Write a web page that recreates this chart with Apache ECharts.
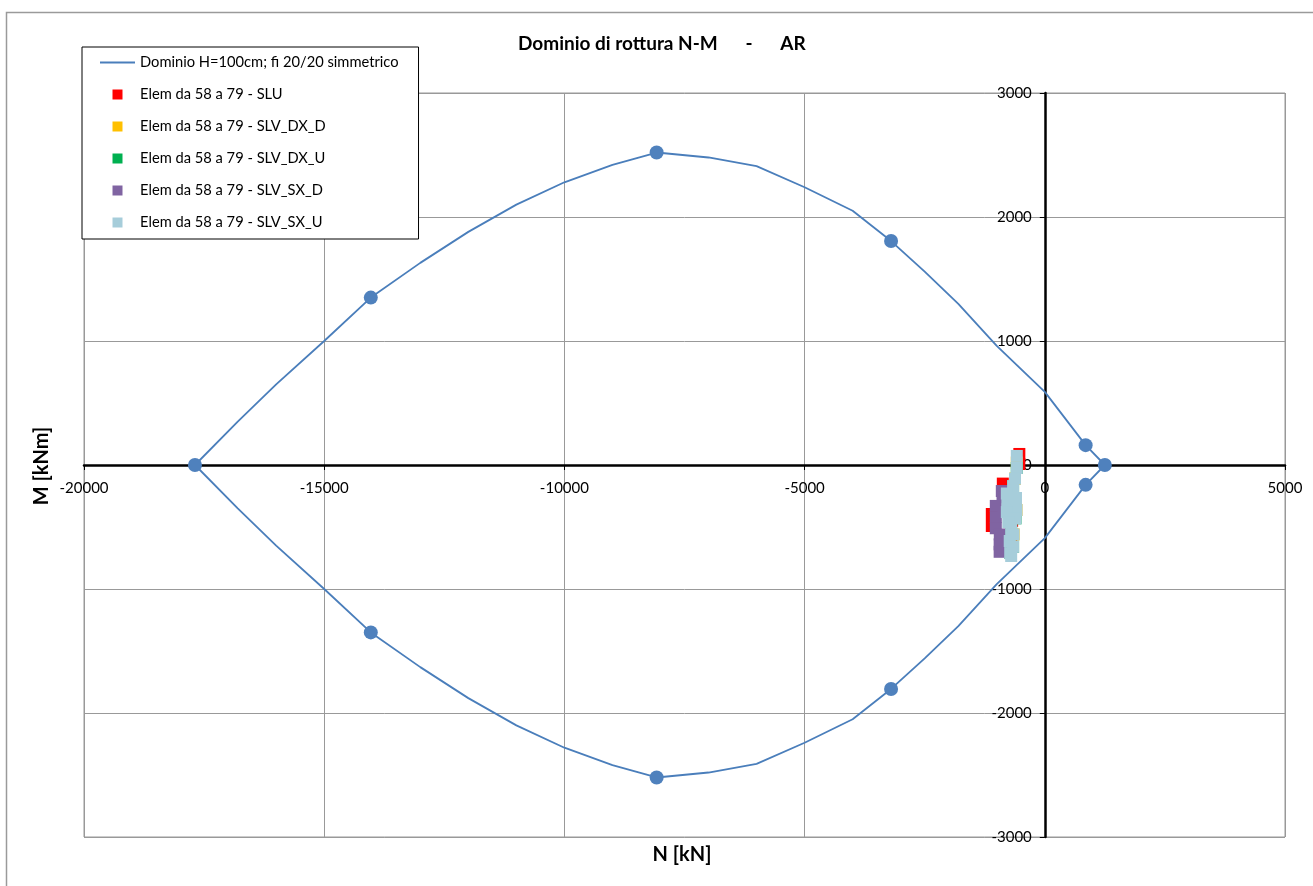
<!DOCTYPE html>
<html><head><meta charset="utf-8">
<script src="https://cdn.jsdelivr.net/npm/echarts@6/dist/echarts.min.js"></script>
<style>html,body{margin:0;padding:0;background:#fff}#c{width:1313px;height:886px}</style>
</head><body><div id="c"></div>
<script>
// Domain curve (closed loop): N [kN], M [kNm]
const domainN = [-17690,-16800,-16000,-15000,-14030,-13000,-12000,-11000,-10000,-9000,-8080,-7000,-6000,-5000,-4000,-3200,-2500,-1800,-1000,0,850,1250,
                 850,0,-1000,-1800,-2500,-3200,-4000,-5000,-6000,-7000,-8080,-9000,-10000,-11000,-12000,-13000,-14030,-15000,-16000,-16800,-17690];
const domainM = [0,350,650,1000,1350,1630,1880,2100,2280,2420,2520,2480,2410,2240,2050,1806,1560,1300,960,590,160,0,
                 -160,-590,-960,-1300,-1560,-1806,-2050,-2240,-2410,-2480,-2520,-2420,-2280,-2100,-1880,-1630,-1350,-1000,-650,-350,0];
// Marked points of the domain
const keyN = [-17690,-14030,-8080,-3200,850,1250,850,-3200,-8080,-14030];
const keyM = [0,1350,2520,1806,160,0,-160,-1806,-2520,-1350];
// Element actions (N [kN], M [kNm])
const sluN = [-530,-530,-874,-1103,-1103,-650,-700,-680];
const sluM = [89,8,-150,-395,-492,-300,-600,-450];
const dxdN = [-583,-620,-600,-590,-650,-730];
const dxdM = [20,-110,-266,-363,-560,-613];
const dxuN = [-583,-660,-610,-700,-660,-720];
const dxuM = [-24,-170,-430,-516,-660,-710];
const sxdN = [-895,-880,-1020,-1020,-1020,-937,-940,-940];
const sxdM = [-210,-260,-330,-420,-510,-560,-640,-700];
const sxuN = [-583,-583,-620,-660,-790,-600,-780,-590,-790,-610,-760,-700,-650,-730,-660,-720,-700];
const sxuM = [73,-24,-110,-170,-230,-266,-300,-363,-380,-430,-460,-516,-560,-613,-660,-710,-734];
// Axis ticks
const xTicks = [-20000,-15000,-10000,-5000,0,5000];
const yTicks = [-3000,-2000,-1000,0,1000,2000,3000];

const names = {
  dom: 'Dominio H=100cm; fi 20/20 simmetrico',
  slu: 'Elem da 58 a 79 - SLU',
  dxd: 'Elem da 58 a 79 - SLV_DX_D',
  dxu: 'Elem da 58 a 79 - SLV_DX_U',
  sxd: 'Elem da 58 a 79 - SLV_SX_D',
  sxu: 'Elem da 58 a 79 - SLV_SX_U'
};
const zip = (a, b) => a.map((v, i) => [v, b[i]]);
const FONT = 'Lato';
const sq = 'path://M0,0h10v10h-10z';
const ln = 'path://M0,0h35v2h-35z';

const chart = echarts.init(document.getElementById('c'), null, {renderer: 'canvas'});
function axisBase(margin) {
  return {
    type: 'value',
    axisLine: {onZero: false, lineStyle: {color: '#000', width: 2.5}},
    axisTick: {show: true, length: 5, lineStyle: {color: '#000', width: 1}},
    splitLine: {show: true, lineStyle: {color: '#999', width: 1}},
    axisLabel: {color: '#000', fontSize: 15, fontFamily: FONT, margin: margin, formatter: v => String(v)}
  };
}
function scat(name, n, m, color) {
  return {name, type: 'scatter', data: zip(n, m), symbol: 'rect', symbolSize: 12,
    itemStyle: {color, opacity: 1}, z: 3, animation: false};
}
chart.setOption({
  animation: false,
  backgroundColor: '#fff',
  title: {text: 'Dominio di rottura N-M      -      AR', left: 513, top: 29,
    textStyle: {fontFamily: FONT, fontSize: 19, fontWeight: 'bold', color: '#000'}},
  grid: {left: 84, right: 28, top: 93, bottom: 49, containLabel: false, show: true, borderColor: '#999', borderWidth: 1},
  xAxis: Object.assign(axisBase(16), {min: xTicks[0], max: xTicks[xTicks.length - 1], interval: 5000, position: 'bottom'}),
  yAxis: Object.assign(axisBase(13), {min: yTicks[0], max: yTicks[yTicks.length - 1], interval: 1000, position: 'left'}),
  legend: {
    orient: 'vertical', left: 82, top: 47,
    padding: [8, 20, 9, 18], itemGap: 17, itemWidth: 35, itemHeight: 10,
    backgroundColor: '#fff', borderColor: '#000', borderWidth: 1,
    symbolKeepAspect: true,
    textStyle: {fontFamily: FONT, fontSize: 14.7, color: '#000'},
    data: [
      {name: names.dom, icon: ln},
      {name: names.slu, icon: sq},
      {name: names.dxd, icon: sq},
      {name: names.dxu, icon: sq},
      {name: names.sxd, icon: sq},
      {name: names.sxu, icon: sq}
    ]
  },
  graphic: [
    {type: 'rect', left: 4, top: 10, shape: {width: 1330, height: 900}, style: {fill: 'none', stroke: '#9a9a9a', lineWidth: 1.5}, silent: true, z: -1},
    {type: 'text', x: 682, y: 855, style: {text: 'N [kN]', font: 'bold 20px ' + FONT, fill: '#000', textAlign: 'center', textVerticalAlign: 'middle'}},
    {type: 'text', x: 42, y: 466, rotation: Math.PI / 2, style: {text: 'M [kNm]', font: 'bold 20px ' + FONT, fill: '#000', textAlign: 'center', textVerticalAlign: 'middle'}}
  ],
  series: [
    {name: names.dom, type: 'line', data: zip(domainN, domainM), symbol: 'none', showSymbol: false,
      lineStyle: {color: '#4A7EBB', width: 1.8}, itemStyle: {color: '#4A7EBB'}, z: 2, animation: false},
    {name: 'punti', type: 'scatter', data: zip(keyN, keyM), symbol: 'circle', symbolSize: 14,
      itemStyle: {color: '#4F81BD', opacity: 1}, z: 2, animation: false},
    scat(names.slu, sluN, sluM, '#FF0000'),
    scat(names.dxd, dxdN, dxdM, '#FFC000'),
    scat(names.dxu, dxuN, dxuM, '#00B050'),
    scat(names.sxd, sxdN, sxdM, '#8064A2'),
    scat(names.sxu, sxuN, sxuM, '#A6CDDA')
  ]
});
// Place both axes (line, ticks, labels) through the origin, as in the reference
const p0 = chart.convertToPixel({gridIndex: 0}, [0, 0]);
const pMin = chart.convertToPixel({gridIndex: 0}, [xTicks[0], yTicks[0]]);
chart.setOption({
  xAxis: {offset: p0[1] - pMin[1]},
  yAxis: {offset: pMin[0] - p0[0]}
});
</script></body></html>
